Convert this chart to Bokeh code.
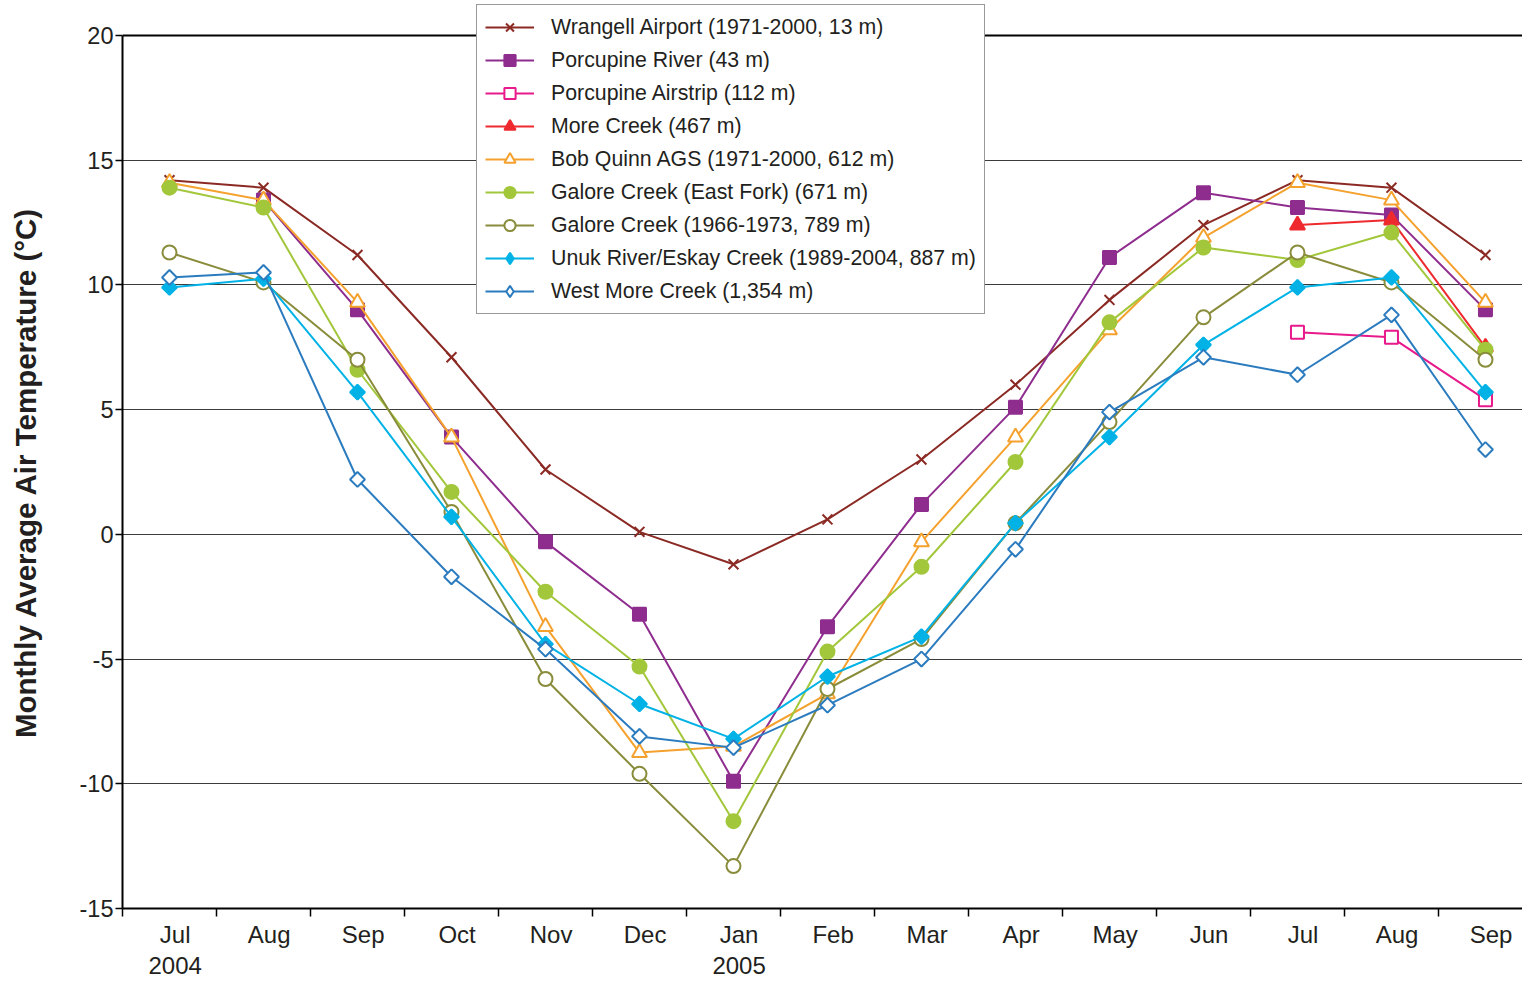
import math
from bokeh.plotting import figure
from bokeh.models import (ColumnDataSource, FixedTicker, LinearAxis, Legend,
                          LegendItem, Range1d, Span)
from bokeh.embed import file_html
from bokeh.resources import INLINE

NaN = float("nan")

# Month labels, July 2004 through September 2005
months = ["Jul", "Aug", "Sep", "Oct", "Nov", "Dec", "Jan", "Feb", "Mar",
          "Apr", "May", "Jun", "Jul", "Aug", "Sep"]
years = {0: "2004", 6: "2005"}

# Monthly average air temperature (°C) per station
wrangell = [14.2, 13.9, 11.2, 7.1, 2.6, 0.1, -1.2, 0.6, 3.0, 6.0, 9.4, 12.4, 14.2, 13.9, 11.2]
porcupine_river = [NaN, 13.4, 9.0, 3.9, -0.3, -3.2, -9.9, -3.7, 1.2, 5.1, 11.1, 13.7, 13.1, 12.8, 9.0]
porcupine_airstrip = [NaN] * 12 + [8.1, 7.9, 5.4]
more_creek = [NaN] * 12 + [12.4, 12.6, 7.5]
bob_quinn = [14.1, 13.4, 9.3, 3.9, -3.7, -8.75, -8.5, -6.4, -0.3, 3.9, 8.2, 11.9, 14.1, 13.4, 9.3]
galore_east_fork = [13.9, 13.1, 6.6, 1.7, -2.3, -5.3, -11.5, -4.7, -1.3, 2.9, 8.5, 11.5, 11.0, 12.1, 7.4]
galore_1966 = [11.3, 10.1, 7.0, 0.9, -5.8, -9.6, -13.3, -6.2, -4.2, 0.45, 4.5, 8.7, 11.3, 10.1, 7.0]
unuk_eskay = [9.9, 10.25, 5.7, 0.7, -4.4, -6.8, -8.2, -5.7, -4.1, 0.45, 3.9, 7.6, 9.9, 10.3, 5.7]
west_more = [10.3, 10.5, 2.2, -1.7, -4.6, -8.1, -8.55, -6.85, -5.0, -0.6, 4.9, 7.1, 6.4, 8.8, 3.4]

y_ticks = [-15, -10, -5, 0, 5, 10, 15, 20]

# (label, values, color, marker, filled)
series = [
    ("Wrangell Airport (1971-2000, 13 m)", wrangell, "#8b2a24", "x", True),
    ("Porcupine River (43 m)", porcupine_river, "#8e2d8e", "square", True),
    ("Porcupine Airstrip (112 m)", porcupine_airstrip, "#e8198b", "square", False),
    ("More Creek (467 m)", more_creek, "#ee2a2f", "triangle", True),
    ("Bob Quinn AGS (1971-2000, 612 m)", bob_quinn, "#f5a12e", "triangle", False),
    ("Galore Creek (East Fork) (671 m)", galore_east_fork, "#a2c73b", "circle", True),
    ("Galore Creek (1966-1973, 789 m)", galore_1966, "#898c3a", "circle", False),
    ("Unuk River/Eskay Creek (1989-2004, 887 m)", unuk_eskay, "#00b2e6", "diamond", True),
    ("West More Creek (1,354 m)", west_more, "#2b7bbf", "diamond", False),
]

FONT = "Liberation Sans"
TEXT = "#231f20"

# The frame reaches a little above 20 °C so the legend can sit over the top edge
p = figure(width=1522, height=982, output_backend="svg", toolbar_location=None,
           x_range=Range1d(0, 14.894), y_range=Range1d(-15, 21.283),
           x_axis_location=None, y_axis_location=None,
           min_border_left=122, min_border_right=0, min_border_top=3,
           min_border_bottom=74)
p.outline_line_color = None
p.background_fill_color = "white"
p.border_fill_color = "white"

# Horizontal gridlines only
p.xgrid.visible = False
p.ygrid.ticker = FixedTicker(ticks=[-10, -5, 0, 5, 10, 15])
p.ygrid.grid_line_color = "#3c3c3c"
p.ygrid.grid_line_width = 1

# Left temperature axis; the title is padded at its upper end with
# non-breaking spaces so that it is centred on the 20 to -15 span
yaxis = LinearAxis(ticker=FixedTicker(ticks=y_ticks), bounds=(-15, 20))
yaxis.major_label_overrides = {t: str(t) for t in y_ticks}
yaxis.axis_line_color = "black"
yaxis.axis_line_width = 2
yaxis.major_tick_line_color = "black"
yaxis.major_tick_line_width = 1.5
yaxis.major_tick_out = 7
yaxis.major_tick_in = 0
yaxis.minor_tick_line_color = None
yaxis.major_label_standoff = 2
yaxis.major_label_text_font = FONT
yaxis.major_label_text_font_size = "23.5px"
yaxis.major_label_text_color = TEXT
yaxis.axis_label = "Monthly Average Air Temperature (°C)" + "\u00a0" * 4
yaxis.axis_label_text_font = FONT
yaxis.axis_label_text_font_size = "29.5px"
yaxis.axis_label_text_font_style = "bold"
yaxis.axis_label_text_color = TEXT
yaxis.axis_label_standoff = 35
p.add_layout(yaxis, "left")

# Bottom month axis: labels at month centres, tick marks at month boundaries
centers = [i + 0.56 for i in range(len(months))]
xaxis = LinearAxis(ticker=FixedTicker(ticks=centers,
                                      minor_ticks=list(range(len(months) + 1))))
xaxis.major_label_overrides = {c: m for c, m in zip(centers, months)}
xaxis.axis_line_color = "black"
xaxis.axis_line_width = 2
xaxis.major_tick_line_color = None
xaxis.major_tick_out = 0
xaxis.major_tick_in = 0
xaxis.minor_tick_line_color = "black"
xaxis.minor_tick_line_width = 1.5
xaxis.minor_tick_out = 8
xaxis.minor_tick_in = 0
xaxis.major_label_standoff = 4
xaxis.major_label_text_font = FONT
xaxis.major_label_text_font_size = "24px"
xaxis.major_label_text_color = TEXT
p.add_layout(xaxis, "below")

# Year labels under July 2004 and January 2005
ycenters = [k + 0.56 for k in years]
year_axis = LinearAxis(ticker=FixedTicker(ticks=ycenters))
year_axis.major_label_overrides = {c: years[k] for c, k in zip(ycenters, years)}
year_axis.axis_line_color = None
year_axis.major_tick_line_color = None
year_axis.minor_tick_line_color = None
year_axis.major_tick_out = 0
year_axis.major_tick_in = 0
year_axis.major_label_standoff = 6
year_axis.major_label_text_font = FONT
year_axis.major_label_text_font_size = "24px"
year_axis.major_label_text_color = TEXT
p.add_layout(year_axis, "below")

# Top edge of the chart area at 20 °C
p.add_layout(Span(location=20, dimension="width", line_color="black", line_width=2))

items = []
for label, values, color, marker, filled in series:
    xs = [i + 0.5 for i, v in enumerate(values) if not math.isnan(v)]
    ys = [v for v in values if not math.isnan(v)]
    src = ColumnDataSource(dict(x=xs, y=ys))
    line = p.line("x", "y", source=src, line_color=color, line_width=2)
    fill = color if filled else "white"
    if marker == "diamond":
        # narrow diamond underneath (used as the legend key), covered by a
        # square turned 45 degrees on the chart itself
        key = p.scatter("x", "y", source=src, marker="diamond", size=14,
                        line_color=color, line_width=2, fill_color=fill)
        p.scatter("x", "y", source=src, marker="square", size=10.5,
                  angle=math.pi / 4, line_color=color, line_width=2,
                  fill_color=fill)
        items.append(LegendItem(label=label, renderers=[line, key]))
    else:
        size = {"x": 14, "triangle": 15, "square": 13, "circle": 14}[marker]
        pts = p.scatter("x", "y", source=src, marker=marker, size=size,
                        line_color=color, line_width=2, fill_color=fill)
        items.append(LegendItem(label=label, renderers=[line, pts]))

legend = Legend(items=items, location=(354, 594))
legend.label_text_font = FONT
legend.label_text_font_size = "21.3px"
legend.label_text_color = TEXT
legend.label_standoff = 17
legend.glyph_width = 49
legend.glyph_height = 28
legend.label_height = 22
legend.spacing = 5
legend.padding = 8
legend.margin = 0
legend.border_line_color = "#333333"
legend.border_line_width = 1.5
legend.background_fill_color = "white"
legend.background_fill_alpha = 1.0
p.add_layout(legend, "center")

open("out.html", "w").write(file_html(p, INLINE))
